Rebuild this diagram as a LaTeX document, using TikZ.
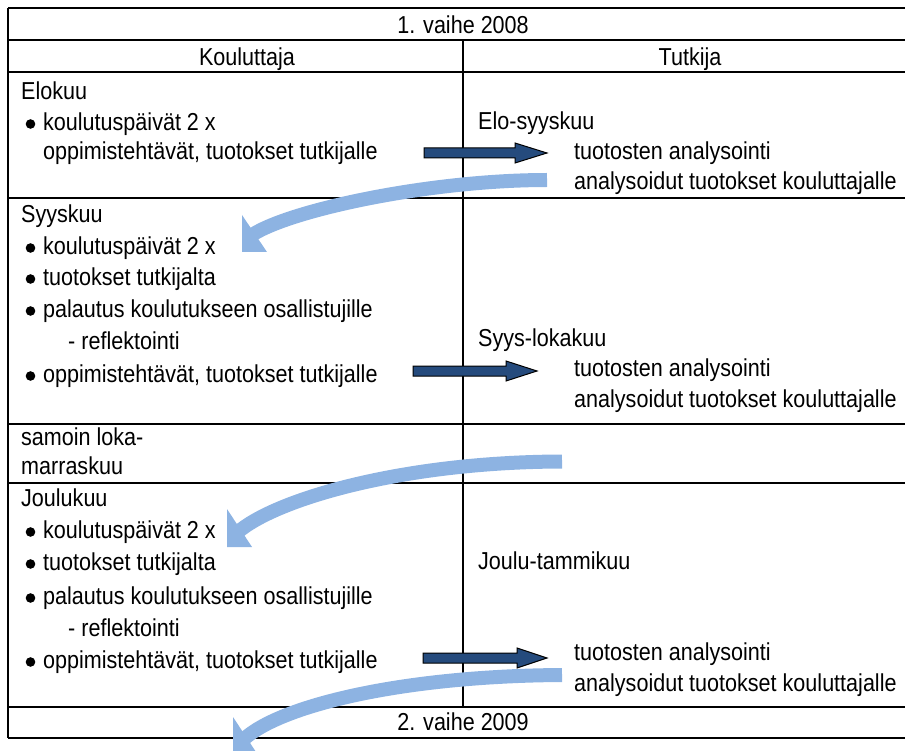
\documentclass[tikz,border=0pt]{standalone}
\usepackage{fontspec}
\setmainfont{Liberation Sans}[FakeStretch=0.88]
\definecolor{darkblue}{HTML}{254B7D}
\definecolor{lightblue}{HTML}{8DB3E2}
\newcommand\darkarrow[4]{%
  \draw[darr] (#1,#3-5) -- (#4,#3-5) -- (#4,#3-10) -- (#2,#3) -- (#4,#3+10) -- (#4,#3+5) -- (#1,#3+5) -- cycle;}
\newcommand\bulletat[1]{\fill (30.5,#1-6.5) circle (4.8);}
\begin{document}
\begin{tikzpicture}[x=1pt,y=-1pt,
  txt/.style={anchor=base west,inner sep=0pt,font=\fontsize{24.5}{26}\selectfont},
  ctxt/.style={anchor=base,inner sep=0pt,font=\fontsize{24.5}{26}\selectfont},
  gridline/.style={line width=1.4pt},
  darr/.style={fill=darkblue,draw=black,line width=1pt,line join=miter},
  larr/.style={draw=lightblue,line width=14pt},
  lhead/.style={fill=lightblue}]
\useasboundingbox (0,0) rectangle (905,751);
\clip (0,0) rectangle (905,751);
% grid
\draw[gridline] (8,8) -- (8,738);
\foreach \y in {8,40,72,198,424,483,707,738} \draw[gridline] (8,\y) -- (920,\y);
\draw[gridline] (463,40) -- (463,707);
% headers
\node[ctxt] (h1) at (463,33.5) {1. vaihe 2008};
\node[ctxt] (hk) at (247,65.5) {Kouluttaja};
\node[ctxt] (ht) at (690,65.5) {Tutkija};
\node[ctxt] (h2) at (463,730.5) {2. vaihe 2009};
% row 1
\node[txt] (a1) at (21,99.5) {Elokuu};
\bulletat{130.5}\node[txt] (a2) at (43,130.5) {koulutuspäivät 2 x};
\node[txt] (a3) at (43,160) {oppimistehtävät, tuotokset tutkijalle};
\node[txt] (b1) at (478,129.5) {Elo-syyskuu};
\node[txt] (b2) at (574,159.5) {tuotosten analysointi};
\node[txt] (b3) at (574,189.5) {analysoidut tuotokset kouluttajalle};
% row 2
\node[txt] (c1) at (21,222.5) {Syyskuu};
\bulletat{254.5}\node[txt] (c2) at (43,254.5) {koulutuspäivät 2 x};
\bulletat{285.5}\node[txt] (c3) at (43,285.5) {tuotokset tutkijalta};
\bulletat{317.5}\node[txt] (c4) at (43,317.5) {palautus koulutukseen osallistujille};
\node[txt] (c5) at (68,349.5) {- reflektointi};
\bulletat{382.5}\node[txt] (c6) at (43,382.5) {oppimistehtävät, tuotokset tutkijalle};
\node[txt] (d1) at (478,346.5) {Syys-lokakuu};
\node[txt] (d2) at (574,376.5) {tuotosten analysointi};
\node[txt] (d3) at (574,407.5) {analysoidut tuotokset kouluttajalle};
% row 3
\node[txt] (e1) at (21,445.5) {samoin loka-};
\node[txt] (e2) at (21,474.5) {marraskuu};
% row 4
\node[txt] (f1) at (21,506.5) {Joulukuu};
\bulletat{538.5}\node[txt] (f2) at (43,538.5) {koulutuspäivät 2 x};
\bulletat{570.5}\node[txt] (f3) at (43,570.5) {tuotokset tutkijalta};
\bulletat{604.5}\node[txt] (f4) at (43,604.5) {palautus koulutukseen osallistujille};
\node[txt] (f5) at (68,636.5) {- reflektointi};
\bulletat{668.5}\node[txt] (f6) at (43,668.5) {oppimistehtävät, tuotokset tutkijalle};
\node[txt] (g1) at (478,569.5) {Joulu-tammikuu};
\node[txt] (g2) at (574,660.5) {tuotosten analysointi};
\node[txt] (g3) at (574,691.5) {analysoidut tuotokset kouluttajalle};
% dark arrows
\darkarrow{424}{547}{153}{515}
\darkarrow{413}{537}{371}{506}
\darkarrow{423}{547}{658}{517}
% light curved arrows
\draw[larr] (547,180) .. controls (430,180) and (290,210) .. (252,235);
\fill[lhead] (242,215) -- (267,252) -- (242,252) -- cycle;
\draw[larr] (562,461.5) .. controls (400,462) and (275,500) .. (238,532);
\fill[lhead] (227,509) -- (252,547) -- (227,547) -- cycle;
\draw[larr] (562,675) .. controls (400,676) and (280,706) .. (244,739);
\fill[lhead] (233,717) -- (258,755) -- (233,755) -- cycle;
\end{tikzpicture}
\end{document}
